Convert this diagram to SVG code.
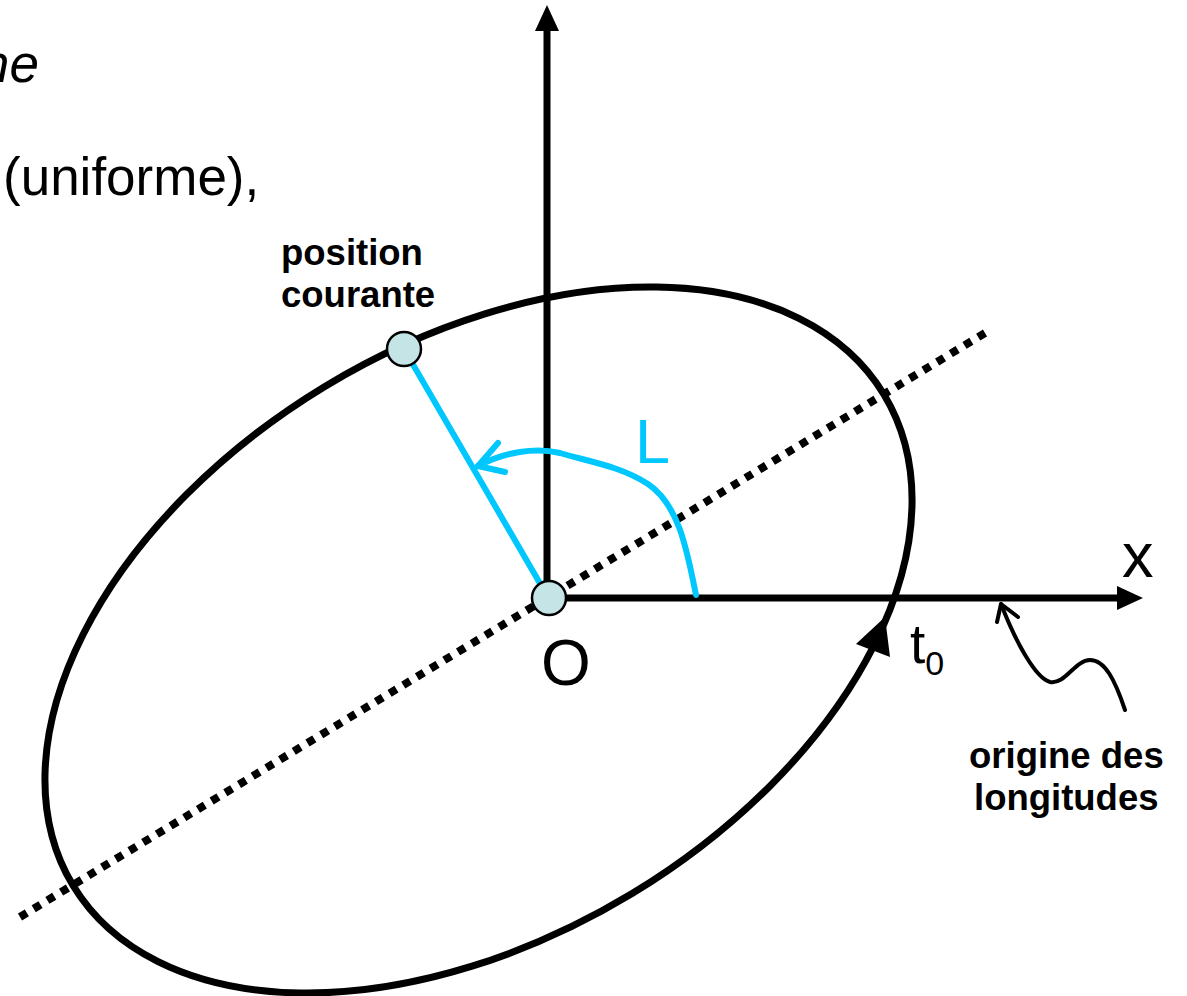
<svg xmlns="http://www.w3.org/2000/svg" width="1187" height="996" viewBox="0 0 1187 996">
<style>
.txt{font-family:"Liberation Sans",Arial,sans-serif;fill:#000}
.bold{font-weight:bold}
.blk{stroke:#000;fill:none}
.blue{stroke:#00c8ff;fill:none;stroke-width:6;stroke-linecap:round;stroke-linejoin:round}
.pt{fill:#c5e4e6;stroke:#000;stroke-width:2.5}
</style>
<rect width="1187" height="996" fill="#fff"/>
<g id="texts-top">
<text class="txt" x="39" y="82" font-size="53" font-style="italic" text-anchor="end">me</text>
<text class="txt" x="3" y="195" font-size="53">(uniforme),</text>
</g>
<g id="orbit">
<ellipse class="blk" cx="478.5" cy="640" rx="474" ry="296.5" stroke-width="7" transform="rotate(-31.2 478.5 640)"/>
<polygon points="856,644 890,657 885,617" fill="#000"/>
</g>
<g id="connectors">
<line x1="20" y1="917" x2="985" y2="333" stroke="#000" stroke-width="8" stroke-dasharray="8 8"/>
<line class="blk" x1="547" y1="598" x2="547" y2="26" stroke-width="7"/>
<polygon points="547,5 535,31 559,31" fill="#000"/>
<line class="blk" x1="547" y1="598" x2="1120" y2="598" stroke-width="7"/>
<polygon points="1143,598 1117,586 1117,610" fill="#000"/>
<line class="blue" x1="404" y1="349" x2="545" y2="592"/>
<path class="blue" d="M696,595 C687,550 679,505 648,484 C620,466 590,462 560,453 C535,447 505,452 478,466"/>
<path class="blue" d="M498,443 L478,466 L505,472"/>
<path class="blk" stroke-width="4" stroke-linecap="round" d="M1125,710 C1115,680 1105,660 1090,660 C1075,660 1065,685 1050,682 C1035,678 1015,640 1001,604"/>
<path class="blk" stroke-width="4" stroke-linecap="round" stroke-linejoin="round" d="M997,622 L1001,604 L1018,617"/>
</g>
<g id="node-position">
<circle class="pt" cx="404" cy="349" r="17"/>
<text class="txt bold" x="281" y="265" font-size="36.5">position</text>
<text class="txt bold" x="281" y="307" font-size="36.5">courante</text>
</g>
<g id="node-O">
<circle class="pt" cx="549" cy="598" r="17"/>
<text class="txt" x="541" y="685" font-size="64">O</text>
</g>
<g id="labels">
<text x="635" y="463" font-size="63" fill="#00c8ff" font-family="Liberation Sans, Arial, sans-serif">L</text>
<text class="txt" x="1122" y="577" font-size="63">x</text>
<text class="txt" x="910" y="663" font-size="55">t<tspan font-size="34" dy="12">0</tspan></text>
<text class="txt bold" x="969" y="768" font-size="36.5">origine des</text>
<text class="txt bold" x="974" y="810" font-size="36.5">longitudes</text>
</g>
</svg>
